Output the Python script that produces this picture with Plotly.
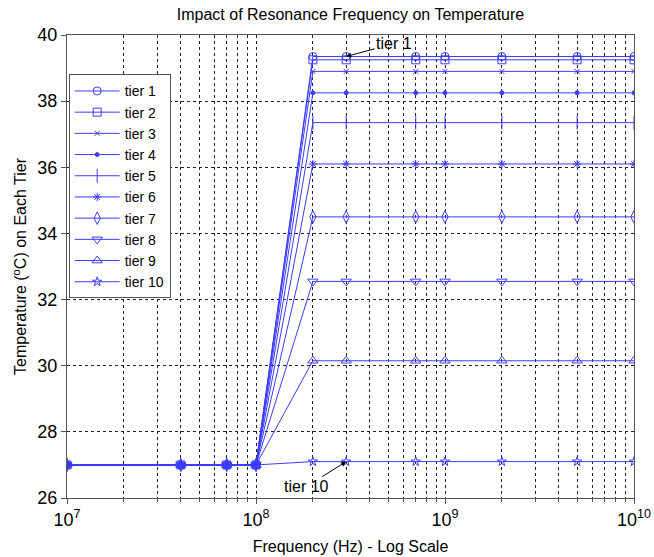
import math
import plotly.graph_objects as go

freqs = [1e7, 4e7, 7e7, 1e8, 2e8, 3e8, 7e8, 1e9, 2e9, 5e9, 1e10]
tier_names = ["tier 1", "tier 2", "tier 3", "tier 4", "tier 5",
              "tier 6", "tier 7", "tier 8", "tier 9", "tier 10"]
base_temp = [27.0, 27.0, 27.0, 27.0]
final_temps = [39.35, 39.25, 38.9, 38.25, 37.35, 36.1, 34.5, 32.55, 30.15, 27.1]
tier_temps = [base_temp + [t] * 7 for t in final_temps]
markers = ["circle-open", "square-open", "x-thin-open", "circle", "line-ns-open",
           "asterisk-open", "diamond-tall-open", "triangle-down-open",
           "triangle-up-open", "star-open"]
marker_sizes = [8, 8, 5, 4, 10, 7, 9, 9, 9, 7]
x_ticks = [1e7, 1e8, 1e9, 1e10]
x_ticktext = ["10<sup>7</sup>", "10<sup>8</sup>", "10<sup>9</sup>", "10<sup>10</sup>"]
y_ticks = [26, 28, 30, 32, 34, 36, 38, 40]

blue = "rgb(60,60,255)"
font = "Liberation Sans, Arial, sans-serif"

fig = go.Figure()
for name, temps, sym, ms in zip(tier_names, tier_temps, markers, marker_sizes):
    fig.add_trace(go.Scatter(
        x=freqs, y=temps, name=name, mode="lines+markers",
        line=dict(color=blue, width=1),
        marker=dict(symbol=sym, size=ms, color=blue, line=dict(color=blue, width=1)),
    ))

minor_vals = [k * 10 ** e for e in range(7, 10) for k in range(2, 10)]
grid_dash = "3px,3px"
grid_color = "#222222"

fig.update_layout(
    width=654, height=557,
    margin=dict(l=67, r=20, t=35, b=59),
    paper_bgcolor="white", plot_bgcolor="white",
    font=dict(family=font, size=16, color="black"),
    title=dict(text="Impact of Resonance Frequency on Temperature",
               x=0.5, xanchor="center", xref="paper", y=0.985, yanchor="top",
               font=dict(size=16)),
    showlegend=True,
    legend=dict(x=0.003, y=0.915, xanchor="left", yanchor="top",
                bgcolor="white", bordercolor="#555555", borderwidth=1,
                font=dict(size=14), tracegroupgap=0, itemwidth=45),
    xaxis=dict(type="log", range=[7, 10], tickmode="array", tickvals=x_ticks,
               ticktext=x_ticktext, tickfont=dict(size=18), ticklabeloverflow="allow",
               automargin=False,
               showline=True, linecolor="#555555", mirror=True,
               ticks="outside", ticklen=5, tickcolor="#555555",
               showgrid=True, gridcolor=grid_color, griddash=grid_dash, gridwidth=1,
               minor=dict(tickmode="array", tickvals=minor_vals, showgrid=True,
                          gridcolor=grid_color, griddash=grid_dash, gridwidth=1,
                          ticks="outside", ticklen=3, tickcolor="#555555"),
               title=dict(text="Frequency (Hz) - Log Scale", font=dict(size=16), standoff=12),
               zeroline=False),
    yaxis=dict(range=[26, 40], tickmode="array", tickvals=y_ticks, tickfont=dict(size=18),
               showline=True, linecolor="#555555", mirror=True,
               ticks="outside", ticklen=5, tickcolor="#555555",
               showgrid=True, gridcolor=grid_color, griddash=grid_dash, gridwidth=1,
               title=dict(text="Temperature (<sup>o</sup>C) on Each Tier", font=dict(size=16), standoff=6),
               zeroline=False),
)

fig.add_annotation(x=math.log10(freqs[5]), y=final_temps[0], text="tier 1",
                   showarrow=True, arrowhead=2, arrowsize=1, arrowwidth=1, arrowcolor="black",
                   ax=48, ay=-13, font=dict(size=16))
fig.add_annotation(x=math.log10(freqs[5]), y=final_temps[9], text="tier 10",
                   showarrow=True, arrowhead=2, arrowsize=1, arrowwidth=1, arrowcolor="black",
                   ax=-40, ay=25, font=dict(size=16))

fig.write_html("out.html")
